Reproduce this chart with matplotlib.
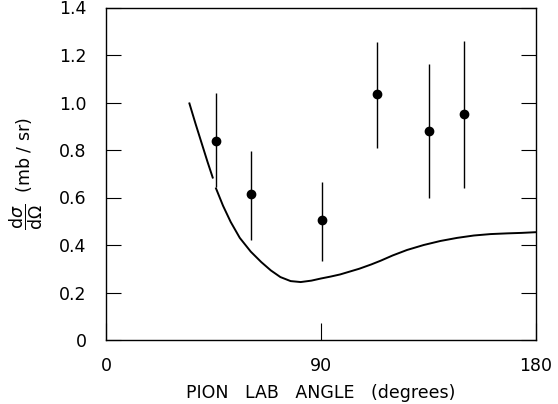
import matplotlib
matplotlib.use("Agg")
import matplotlib.pyplot as plt

# Data points (pion lab angle in degrees, cross-section in mb/sr)
angles = [46, 60.7, 90.4, 113.5, 135, 150]
xsec = [0.84, 0.613, 0.504, 1.036, 0.881, 0.953]
err_lo = [0.645, 0.421, 0.333, 0.807, 0.599, 0.641]
err_hi = [1.04, 0.797, 0.667, 1.256, 1.161, 1.26]

# Theory curve, two segments (gap near first data point)
curve1_x = [34.8, 37.5, 40.0, 42.5, 44.8]
curve1_y = [1.0, 0.91, 0.83, 0.75, 0.68]
curve2_x = [45.9, 49.0, 52.2, 56.0, 60.6, 65.0, 69.0, 73.0, 77.3, 81.5, 86.0,
            90.0, 94.0, 98.0, 102.0, 106.0, 111.0, 115.0, 120.0, 126.0, 133.0, 140.0,
            147.0, 154.0, 161.0, 168.0, 174.0, 180.0]
curve2_y = [0.642, 0.565, 0.497, 0.43, 0.372, 0.328, 0.293, 0.265, 0.248, 0.244, 0.25,
            0.259, 0.267, 0.276, 0.288, 0.3, 0.318, 0.334, 0.356, 0.379, 0.4, 0.417,
            0.43, 0.44, 0.446, 0.449, 0.451, 0.454]

x_ticks = [0, 90, 180]
x_ticklabels = ["0", "90", "180"]
y_ticks = [0, 0.2, 0.4, 0.6, 0.8, 1.0, 1.2, 1.4]
y_ticklabels = ["0", "0.2", "0.4", "0.6", "0.8", "1.0", "1.2", "1.4"]

plt.rcParams["mathtext.fontset"] = "dejavusans"

fig = plt.figure(figsize=(5.58, 4.04), dpi=100)
ax = fig.add_axes([106/558, 1-340/404, (536-106)/558, (340-7.5)/404])

ax.plot(curve1_x, curve1_y, color="black", lw=1.4, solid_capstyle="butt")
ax.plot(curve2_x, curve2_y, color="black", lw=1.4, solid_capstyle="butt")

yerr = [[v - lo for v, lo in zip(xsec, err_lo)], [hi - v for v, hi in zip(xsec, err_hi)]]
ax.errorbar(angles, xsec, yerr=yerr, fmt="o", color="black", ms=6, elinewidth=1.0,
            capsize=0)

ax.set_xlim(0, 180)
ax.set_ylim(0, 1.4)
ax.set_xticks(x_ticks)
ax.set_xticklabels(x_ticklabels)
ax.set_yticks(y_ticks)
ax.set_yticklabels(y_ticklabels)

ax.tick_params(axis="y", which="both", direction="in", length=11, width=0.8,
               left=True, right=True, labelsize=12.5, pad=14, colors="black")
ax.tick_params(axis="x", which="both", direction="in", length=12, width=0.8,
               bottom=True, top=False, labelsize=12.5, pad=12)
for s in ax.spines.values():
    s.set_linewidth(1.0)

ax.set_xlabel("PION   LAB   ANGLE   (degrees)", fontsize=12.5, labelpad=7)
ax.set_ylabel(r"$\dfrac{\mathrm{d}\sigma}{\mathrm{d}\Omega}$  (mb / sr)", fontsize=12.5, labelpad=10)

fig.savefig("out.png", dpi=100)
